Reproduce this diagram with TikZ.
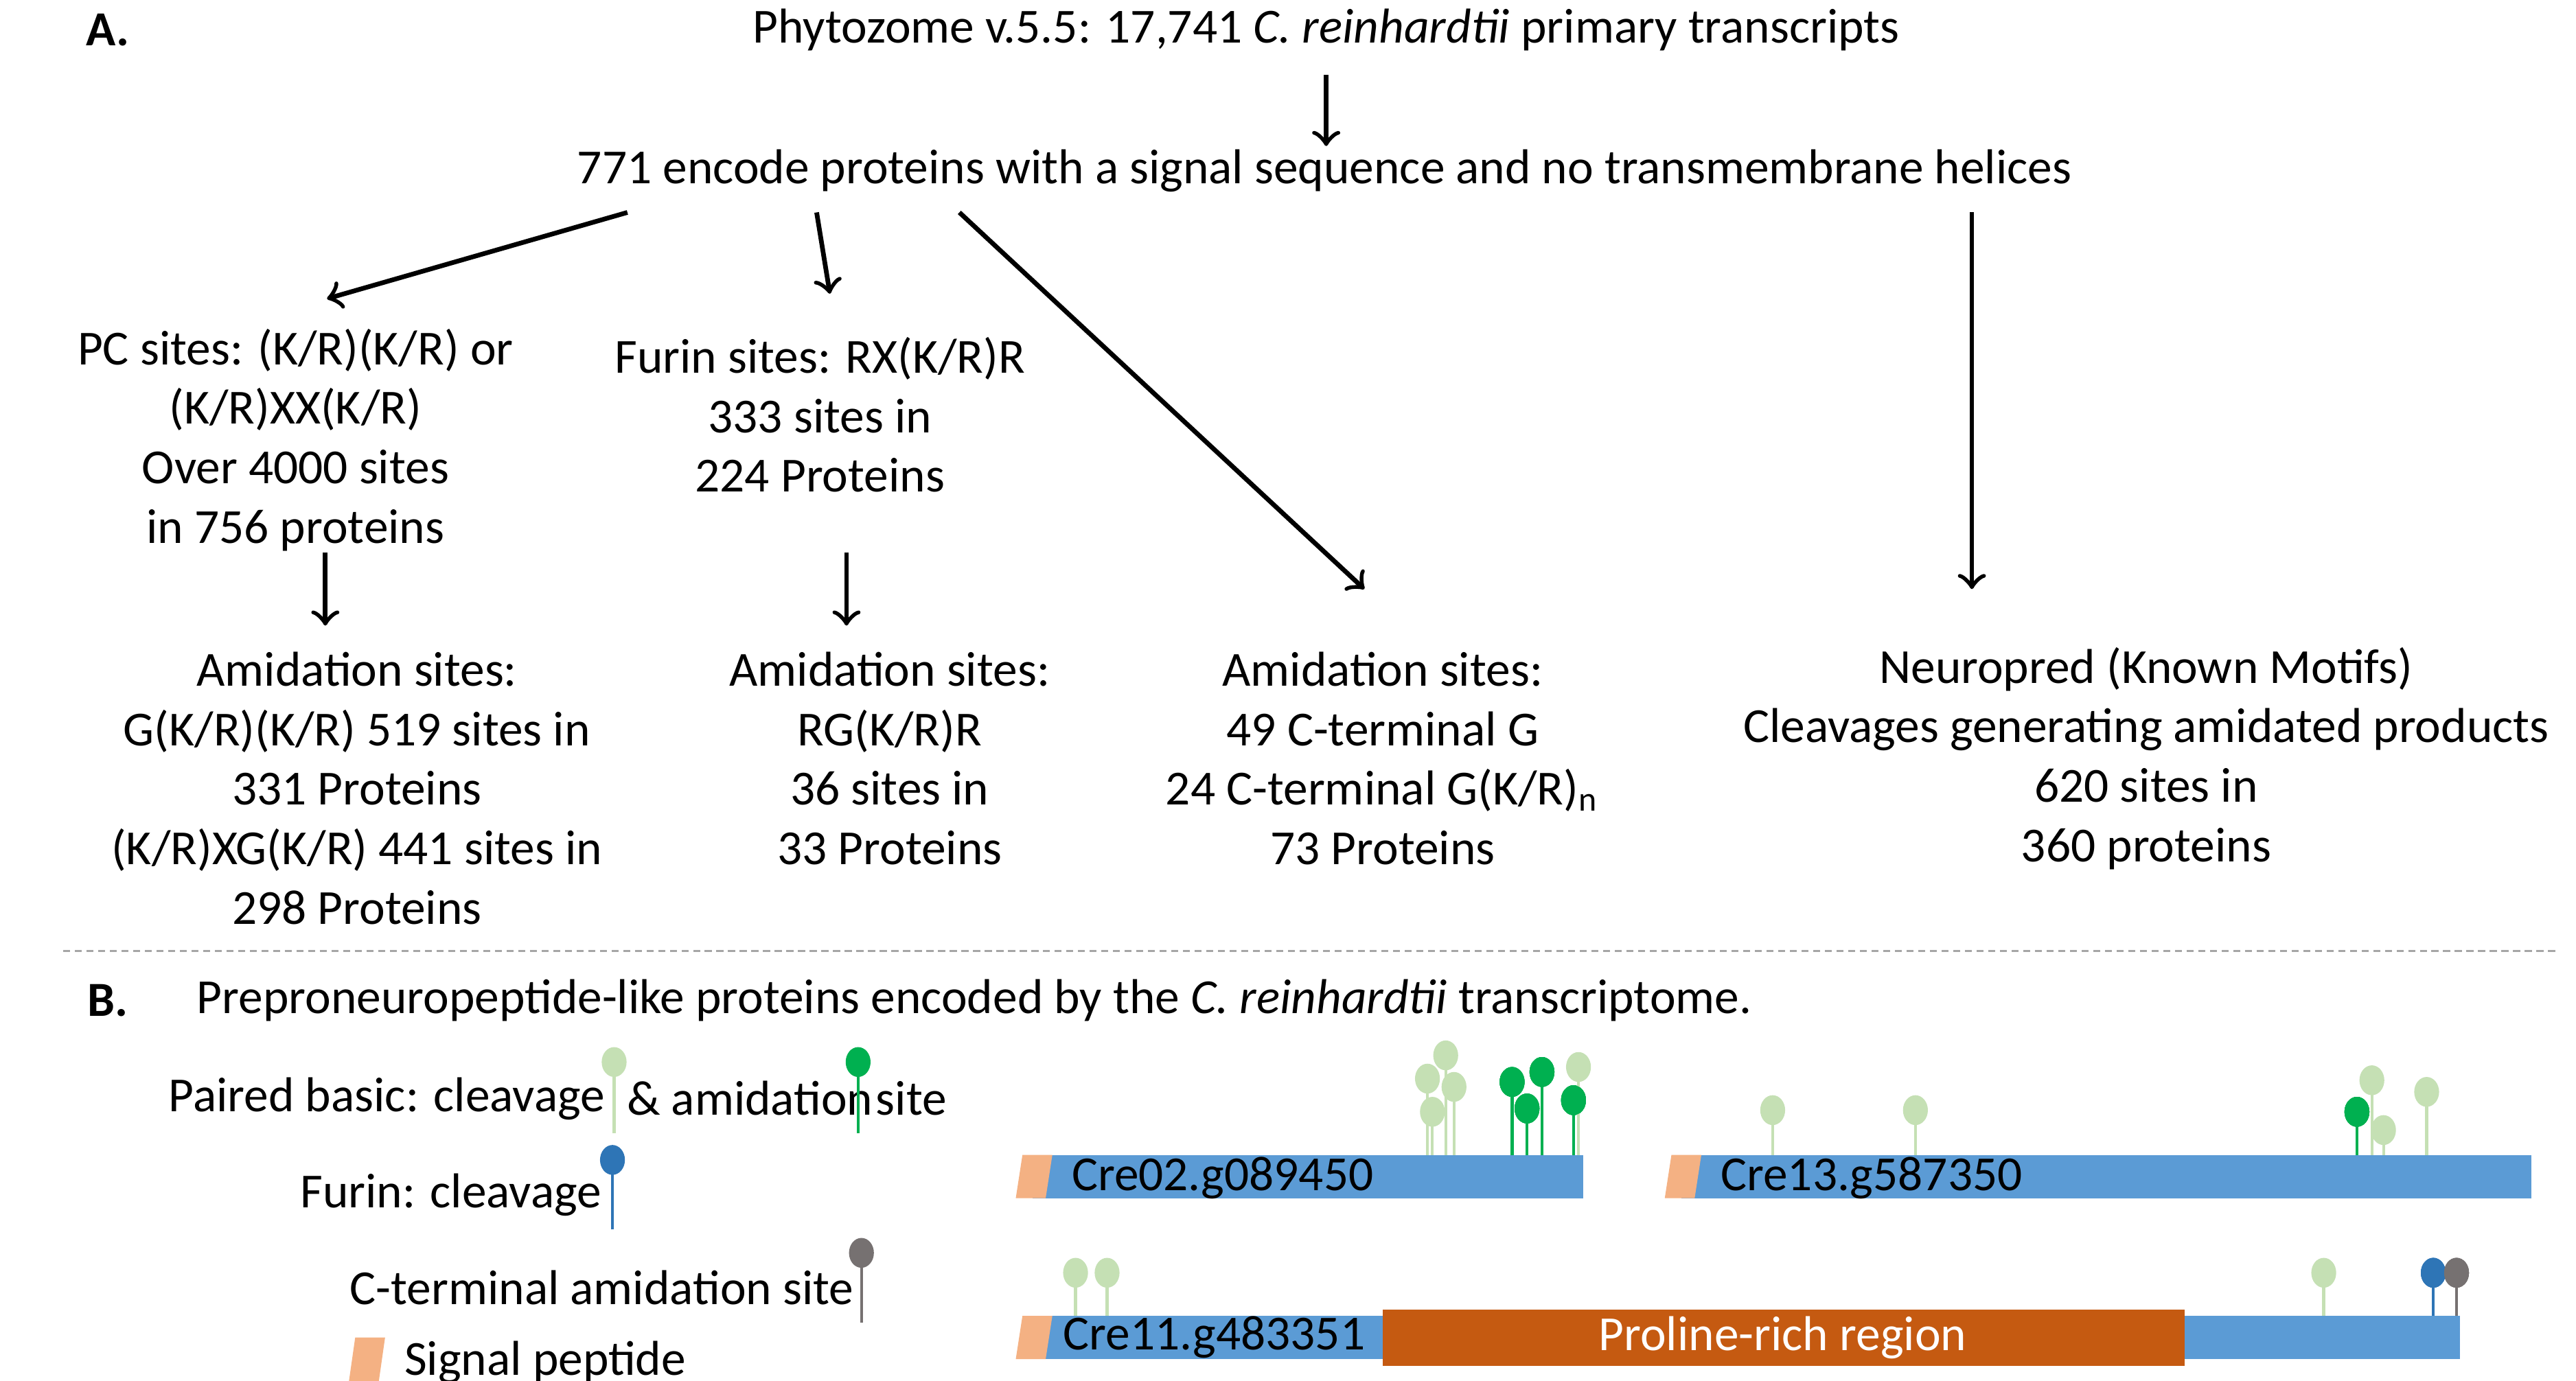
\documentclass[tikz,border=0pt]{standalone}
\usepackage{fontspec}
\setmainfont{Carlito}
\usepackage{xcolor}
\definecolor{barblue}{HTML}{5B9BD5}
\definecolor{sigpep}{HTML}{F4B183}
\definecolor{prorich}{HTML}{C55A11}
\definecolor{lightgreen}{HTML}{C5E0B4}
\definecolor{darkgreen}{HTML}{00B050}
\definecolor{furinblue}{HTML}{2E75B6}
\definecolor{cterm}{HTML}{767171}
\tikzset{
  txt/.style={align=center, inner sep=0pt, font=\fontsize{8.4}{10.2}\selectfont},
  flow/.style={draw=black, ->, thick},
  bar/.style={fill=barblue, draw=none},
}
\newcommand{\lolli}[4]{%
  \draw[#1, line width=0.5pt] (#2,#4) -- (#2,#3);
  \fill[#1] (#2,#3) ellipse (0.75mm and 0.9mm);}
\newcommand{\sigp}[3]{%
  \fill[sigpep] (#1+4,#2) -- (#1+22,#2) -- (#1+18,#3) -- (#1,#3) -- cycle;}
\begin{document}
\begin{tikzpicture}[x=0.1mm, y=-0.1mm]
		\useasboundingbox (0,0) rectangle (1552,832);
		% part A
		\node[txt, font=\fontsize{8.4}{10.2}\selectfont\bfseries] (labA) at (65,18) {A.};
		\node[txt] (phyto) at (799,18) {Phytozome v.5.5: 17,741 \textit{C. reinhardtii} primary transcripts};
		\node[txt] (enc) at (798,103) {771 encode proteins with a signal sequence and no transmembrane helices};
		\node[txt] (pc) at (178,265) {PC sites: (K/R)(K/R) or\\(K/R)XX(K/R)\\Over 4000 sites\\in 756 proteins};
		\node[txt] (furin) at (494,250) {Furin sites: RX(K/R)R\\333 sites in\\224 Proteins};
		\node[txt] (amidA) at (215,475) {Amidation sites:\\G(K/R)(K/R) 519 sites in\\331 Proteins\\(K/R)XG(K/R) 441 sites in\\298 Proteins};
		\node[txt] (amidB) at (536,457) {Amidation sites:\\RG(K/R)R\\36 sites in\\33 Proteins};
		\node[txt] (amidC) at (833,457) {Amidation sites:\\49 C-terminal G\\24 C-terminal G(K/R)$_\mathrm{n}$\\73 Proteins};
		\node[txt] (neuro) at (1293,457) {Neuropred (Known Motifs)\\Cleavages generating amidated products\\620 sites in\\360 proteins};

		\coordinate (e0) at (799,45);
		\coordinate (t0) at (799,88);
		\coordinate (e1) at (378,128);
		\coordinate (e2) at (492,128);
		\coordinate (e3) at (578,128);
		\coordinate (e4) at (1188,128);
		\coordinate (t1) at (197,180);
		\coordinate (t2) at (500,177);
		\coordinate (t3) at (822,355);
		\coordinate (t4) at (1188,355);
		\coordinate (e5) at (196,333);
		\coordinate (t5) at (196,377);
		\coordinate (e6) at (510,333);
		\coordinate (t6) at (510,377);
		\draw[flow] (e0) -- (t0);
		\draw[flow] (e1) -- (t1);
		\draw[flow] (e2) -- (t2);
		\draw[flow] (e3) -- (t3);
		\draw[flow] (e4) -- (t4);
		\draw[flow] (e5) -- (t5);
		\draw[flow] (e6) -- (t6);

		\draw[gray!70, dash pattern=on 1.2pt off 0.8pt, line width=0.3pt] (38,573) -- (1540,573);

		% part B
		\node[txt, font=\fontsize{8.4}{10.2}\selectfont\bfseries] (labB) at (65,603) {B.};
		\node[txt, anchor=west] (caption) at (118,603) {Preproneuropeptide-like proteins encoded by the \textit{C. reinhardtii} transcriptome.};

		% legend
		\node[txt, anchor=east] (lgpair) at (365,662) {Paired basic: cleavage};
		\node[txt, anchor=west] (lgamid) at (377,662) {\& amidation};
		\node[txt, anchor=west] (lgsite) at (527,662) {site};
		\lolli{lightgreen}{370}{640}{683}
		\lolli{darkgreen}{517}{640}{683}
		\node[txt, anchor=east] (lgfurin) at (363,720) {Furin: cleavage};
		\lolli{furinblue}{369}{699}{741}
		\node[txt, anchor=east] (lgcterm) at (515,776) {C-terminal amidation site};
		\lolli{cterm}{519}{755}{797}
		\sigp{210}{806}{834}
		\node[txt, anchor=west] (lgsig) at (243,821) {Signal peptide};

		% Cre02.g089450
		\foreach \x/\y in {860/650, 871/636, 876/655, 863/670, 951/643}
			\lolli{lightgreen}{\x}{\y}{696}
		\foreach \x/\y in {911/652, 929/646, 920/668, 948/663}
			\lolli{darkgreen}{\x}{\y}{696}
		\fill[bar] (622,696) rectangle (954,722);
		\sigp{612}{696}{722}
		\node[txt, anchor=west] (creA) at (645,710) {Cre02.g089450};

		% Cre13.g587350
		\foreach \x/\y in {1068/669, 1154/669, 1429/651, 1436/681, 1462/658}
			\lolli{lightgreen}{\x}{\y}{696}
		\lolli{darkgreen}{1420}{670}{696}
		\fill[bar] (1013,696) rectangle (1525,722);
		\sigp{1003}{696}{722}
		\node[txt, anchor=west] (creB) at (1036,710) {Cre13.g587350};

		% Cre11.g483351
		\foreach \x in {648, 667, 1400}
			\lolli{lightgreen}{\x}{767}{793}
		\lolli{furinblue}{1466}{767}{793}
		\lolli{cterm}{1480}{767}{793}
		\fill[bar] (622,793) rectangle (1482,819);
		\sigp{612}{793}{819}
		\fill[prorich] (833,789) rectangle (1316,823);
		\node[txt, anchor=west] (creC) at (640,806) {Cre11.g483351};
		\node[txt, text=white] (pro) at (1074,806) {Proline-rich region};
	\end{tikzpicture}
\end{document}
